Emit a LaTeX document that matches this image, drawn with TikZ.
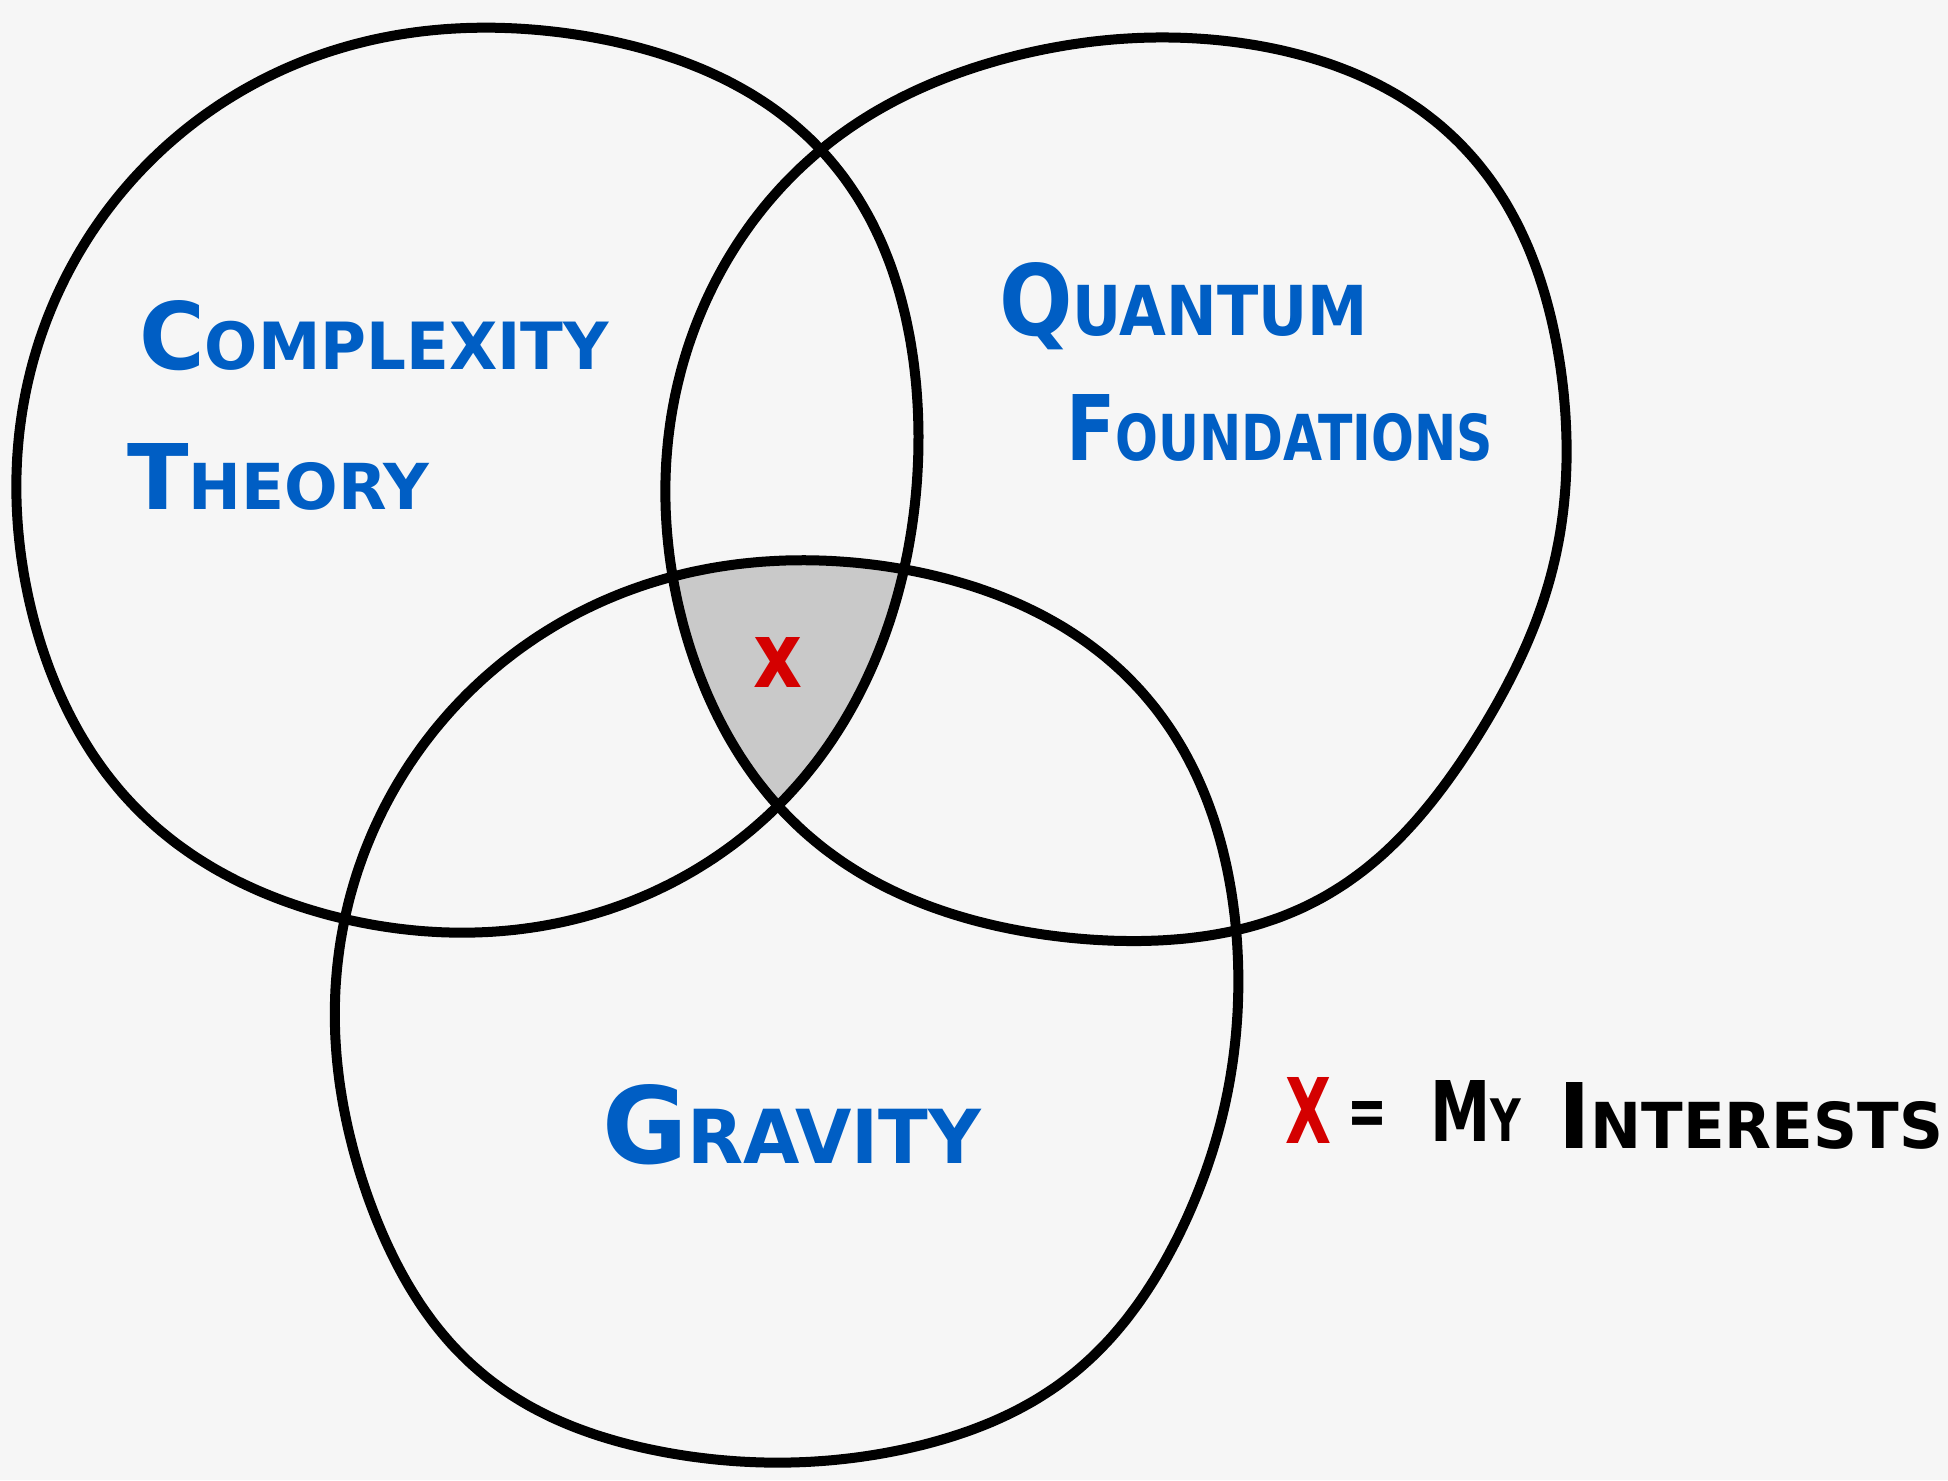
\documentclass[tikz,border=0pt]{standalone}
\usepackage{fontspec}
\setmainfont{DejaVu Sans}
\usepackage{graphicx}
\definecolor{bg}{HTML}{F6F6F6}
\definecolor{lbl}{HTML}{005EC4}
\definecolor{mark}{HTML}{D40000}
\definecolor{midgray}{HTML}{C9C9C9}
\newcommand\mysc[2]{{\fontsize{40}{40}\selectfont #1}{\fontsize{28}{28}\selectfont #2}}
\begin{document}
\begin{tikzpicture}[x=0.5pt,y=-0.5pt,
  declare function={
    bump(\a,\c,\n)=pow((1.0001+cos(\a-\c))/2,\n);
    rA(\a)=451+33*bump(\a,-43,16)+15*bump(\a,135,20)-7*bump(\a,15,16);
    rB(\a)=449+37*bump(\a,-45,16)-11*bump(\a,33,24)+14*bump(\a,65,24)+16*bump(\a,132,18)-8*bump(\a,-105,24);
    rC(\a)=449+31*bump(\a,-42,14)+14*bump(\a,52,30)+22*bump(\a,130,24);
  },
  ring/.style={draw=black, line width=5pt, line join=round},
  lab/.style={anchor=base west, inner sep=0pt, outer sep=0pt, text=lbl, font=\bfseries},
  leg/.style={anchor=base west, inner sep=0pt, outer sep=0pt, text=black, font=\bfseries}]
\path[fill=bg, use as bounding box] (0,0) rectangle (1948,1480);
% circle paths
\path[save path=\pA] plot[smooth cycle, samples=120, domain=0:357, variable=\t]
  ({468+rA(\t)*cos(\t)}, {481+rA(\t)*sin(\t)});
\path[save path=\pB] plot[smooth cycle, samples=120, domain=0:357, variable=\t]
  ({1115+rB(\t)*cos(\t)}, {486+rB(\t)*sin(\t)});
\path[save path=\pC] plot[smooth cycle, samples=120, domain=0:357, variable=\t]
  ({784+rC(\t)*cos(\t)}, {1012+rC(\t)*sin(\t)});
% shaded triple intersection
\begin{scope}
  \clip[use path=\pA];
  \clip[use path=\pB];
  \fill[midgray, use path=\pC];
\end{scope}
% circles
\draw[ring, use path=\pA];
\draw[ring, use path=\pB];
\draw[ring, use path=\pC];
% labels
\node[lab] (complexity) at (139,369) {\resizebox{235pt}{34.5pt}{\mysc{C}{OMPLEXITY}}};
\node[lab] (theory) at (127,509) {\resizebox{151pt}{33pt}{\mysc{T}{HEORY}}};
\node[lab] (quantum) at (999,335) {\resizebox{184.5pt}{36.5pt}{\mysc{Q}{UANTUM}}};
\node[lab] (foundations) at (1066,460) {\resizebox{213.5pt}{33pt}{\mysc{F}{OUNDATIONS}}};
\node[lab] (gravity) at (602,1163) {\resizebox{189.5pt}{39.5pt}{\mysc{G}{RAVITY}}};
% marks
\node[anchor=base west, inner sep=0pt, text=mark, font=\bfseries] (xmark) at (753,687) {\resizebox{24.5pt}{25pt}{x}};
\node[anchor=base west, inner sep=0pt, text=mark, font=\bfseries] (legx) at (1285,1143) {\resizebox{23pt}{33pt}{X}};
\node[leg] (eq) at (1347,1135) {\resizebox{20pt}{17pt}{=}};
\node[leg] (my) at (1430,1141) {\resizebox{45.5pt}{30.5pt}{\mysc{M}{Y}}};
\node[leg] (interests) at (1558,1148) {\resizebox{192.5pt}{33pt}{\mysc{I}{NTERESTS}}};
\end{tikzpicture}
\end{document}
